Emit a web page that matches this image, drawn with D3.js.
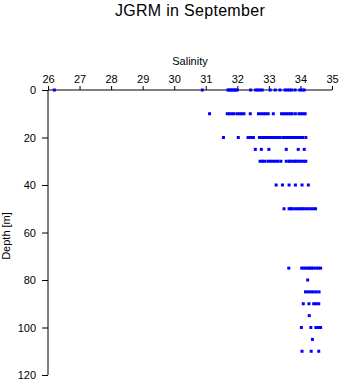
<!DOCTYPE html>
<html><head><meta charset="utf-8">
<script src="https://cdn.jsdelivr.net/npm/d3@7"></script>
<style>body{margin:0;background:#fff}svg{display:block}text{font-family:"Liberation Sans",Arial,sans-serif}</style>
</head><body>
<script>
const title = "JGRM in September";
const xLabel = "Salinity";
const yLabel = "Depth [m]";
const xTicks = [26,27,28,29,30,31,32,33,34,35];
const yTicks = [0,20,40,60,80,100,120];
const depths = [0,10,20,25,30,40,50,75,80,85,90,95,100,105,110];
const sal0 = [26.2,30.89,31.7,31.75,31.8,31.85,31.9,31.95,32.0,32.42,32.58,32.65,32.72,32.79,33.04,33.2,33.35,33.51,33.58,33.65,33.72,33.83,33.98,34.05,34.12];
const sal10 = [31.12,31.68,31.75,31.83,31.9,32.0,32.07,32.14,32.21,32.41,32.67,32.75,32.83,32.9,32.98,33.14,33.4,33.47,33.54,33.61,33.68,33.74,33.84,33.95,34.02,34.09,34.15];
const sal20 = [31.56,32.03,32.34,32.42,32.51,32.7,32.77,32.84,32.91,32.98,33.05,33.12,33.2,33.27,33.35,33.44,33.51,33.58,33.65,33.72,33.79,33.86,33.93,34.0,34.07,34.17];
const sal25 = [32.57,32.76,33.0,33.55,33.93,34.12];
const sal30 = [32.72,32.8,32.87,32.97,33.05,33.13,33.21,33.29,33.38,33.55,33.64,33.67,33.75,33.83,33.87,33.95,34.02,34.1,34.17];
const sal40 = [33.23,33.43,33.64,33.84,34.05,34.25];
const sal50 = [33.48,33.64,33.69,33.74,33.82,33.9,33.97,34.04,34.09,34.17,34.25,34.33,34.41,34.48];
const sal75 = [33.63,34.04,34.1,34.17,34.24,34.3,34.35,34.42,34.5,34.57,34.64];
const sal80 = [34.23];
const sal85 = [34.16,34.25,34.33,34.41,34.5,34.59];
const sal90 = [34.09,34.27,34.42,34.5,34.58];
const sal95 = [34.28];
const sal100 = [34.03,34.33,34.49,34.57,34.64];
const sal105 = [34.38];
const sal110 = [34.05,34.34,34.58];
const salinity = [sal0,sal10,sal20,sal25,sal30,sal40,sal50,sal75,sal80,sal85,sal90,sal95,sal100,sal105,sal110];

const W = 341, H = 384;
const svg = d3.select("body").append("svg").attr("width", W).attr("height", H);
const x = d3.scaleLinear().domain([26,35]).range([48,332]);
const y = d3.scaleLinear().domain([0,120]).range([90,375]);

svg.append("text").attr("x",190).attr("y",16).attr("text-anchor","middle")
  .attr("font-size",16).attr("letter-spacing",0.3).text(title);
svg.append("text").attr("x",190).attr("y",65).attr("text-anchor","middle")
  .attr("font-size",11).text(xLabel);
svg.append("text").attr("transform","translate(10,"+236+") rotate(-90)").attr("text-anchor","middle")
  .attr("font-size",11).text(yLabel);

const xAxis = svg.append("g").attr("transform","translate(0,"+y(0)+")")
  .call(d3.axisTop(x).tickValues(xTicks).tickSize(4).tickPadding(3).tickFormat(d3.format("d")));
const yAxis = svg.append("g").attr("transform","translate("+x(26)+",0)")
  .call(d3.axisLeft(y).tickValues(yTicks).tickSize(6).tickPadding(6).tickFormat(d3.format("d")));
[xAxis,yAxis].forEach(g=>{
  g.select(".domain").attr("stroke","#000").attr("stroke-width",1);
  g.selectAll("line").attr("stroke","#000");
  g.selectAll("text").attr("font-size",11).attr("fill","#000").attr("font-family","Liberation Sans, Arial, sans-serif");
});
xAxis.select(".domain").attr("d","M"+x(26)+",0H"+x(35));
yAxis.select(".domain").attr("d","M0,"+y(0)+"V"+y(120));

const pts = [];
depths.forEach((d,i)=>salinity[i].forEach(s=>pts.push({d,s})));
svg.append("g").selectAll("rect").data(pts).join("rect")
  .attr("x",p=>x(p.s)-1.5).attr("y",p=>y(p.d)-1.5)
  .attr("width",3).attr("height",3).attr("fill","#0000ff");
</script>
</body></html>
